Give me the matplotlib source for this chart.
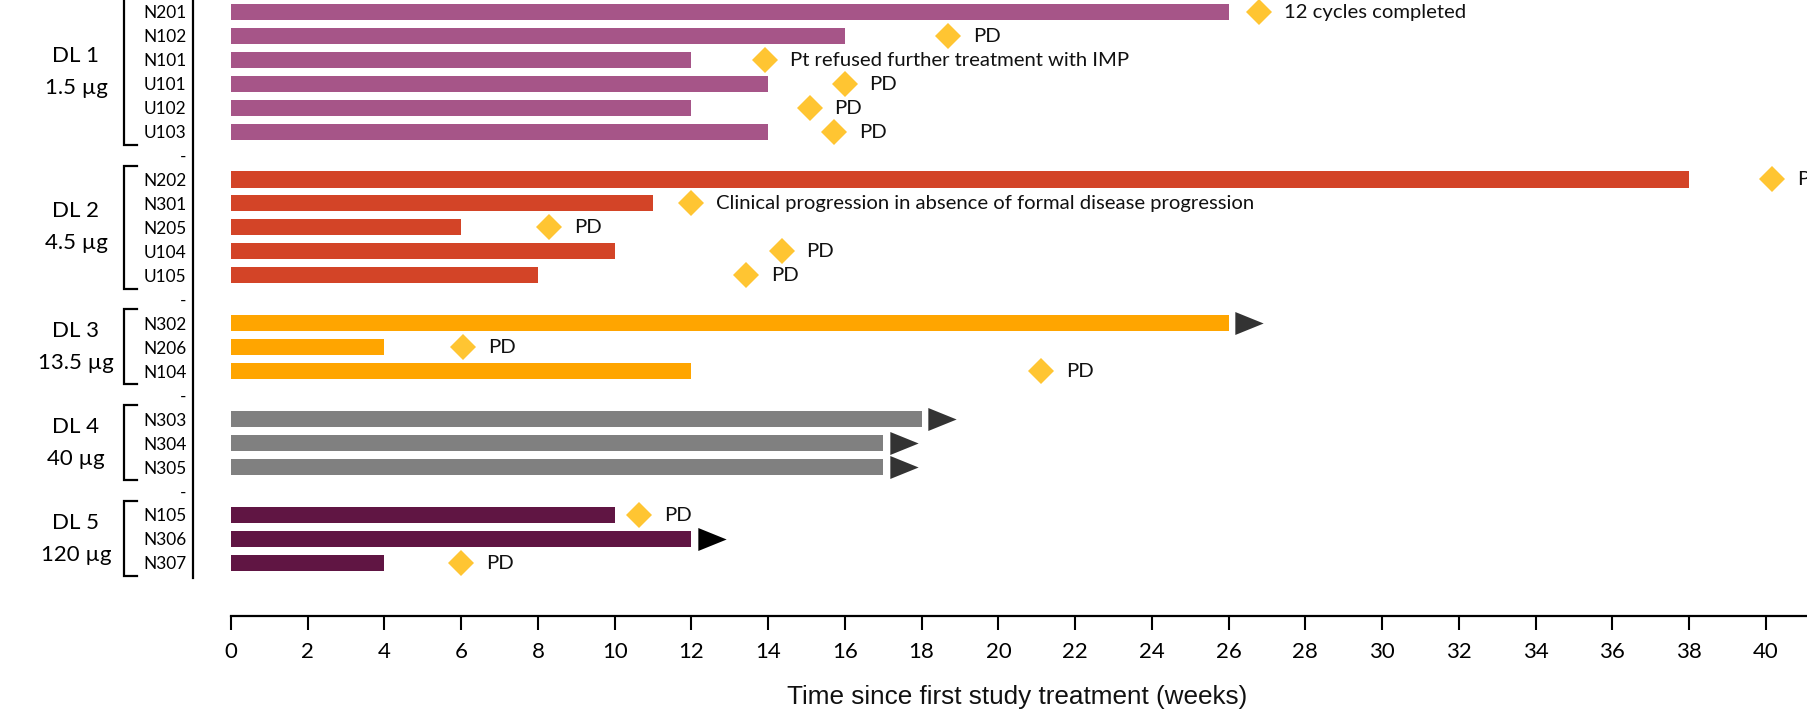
import matplotlib
matplotlib.use("Agg")
import matplotlib.pyplot as plt
from matplotlib.path import Path
from matplotlib.transforms import offset_copy, blended_transform_factory

# ---------------- data ----------------
group_labels = ["DL 1\n1.5 µg", "DL 2\n4.5 µg", "DL 3\n13.5 µg", "DL 4\n40 µg", "DL 5\n120 µg"]
group_sizes = [6, 5, 3, 3, 3]
group_colors = ["#A65588", "#D34427", "#FFA500", "#808080", "#601543"]

patients = ["N201", "N102", "N101", "U101", "U102", "U103",
            "N202", "N301", "N205", "U104", "U105",
            "N302", "N206", "N104",
            "N303", "N304", "N305",
            "N105", "N306", "N307"]
durations = [26, 16, 12, 14, 12, 14,
             38, 11, 6, 10, 8,
             26, 4, 12,
             18, 17, 17,
             10, 12, 4]
event_weeks = [26.8, 18.7, 13.93, 15.99, 15.08, 15.72,
               40.16, 12.0, 8.28, 14.35, 13.42,
               None, 6.06, 21.11,
               None, None, None,
               10.63, None, 6.0]
event_labels = ["12 cycles completed", "PD", "Pt refused further treatment with IMP", "PD", "PD", "PD",
                "PD", "Clinical progression in absence of formal disease progression", "PD", "PD", "PD",
                None, "PD", "PD",
                None, None, None,
                "PD", None, "PD"]
ongoing = [False, False, False, False, False, False,
           False, False, False, False, False,
           True, False, False,
           True, True, True,
           False, True, False]
arrow_colors = ["#333333"] * 17 + ["#333333", "#000000", "#333333"]

x_ticks = list(range(0, 41, 2))
x_label = "Time since first study treatment (weeks)"

# ---------------- layout ----------------
W, H = 1808, 722
fig = plt.figure(figsize=(W / 100, H / 100), dpi=100)
ax = fig.add_axes([192.6 / W, 1 - 578 / H, (W - 192.6) / W, 578 / H])

LATO = ["Lato", "DejaVu Sans"]

# rows: patients with a separator row between groups
y_pos, bar_colors, tick_rows, tick_labels, group_rows = [], [], [], [], []
r = 0
idx = 0
for gi, size in enumerate(group_sizes):
    if gi > 0:
        tick_rows.append(r)
        tick_labels.append("-")
        r += 1
    rows_g = []
    for k in range(size):
        y_pos.append(r)
        rows_g.append(r)
        tick_rows.append(r)
        tick_labels.append(patients[idx])
        bar_colors.append(group_colors[gi])
        idx += 1
        r += 1
    group_rows.append(rows_g)

ax.barh(y_pos, durations, left=0, height=0.67, color=bar_colors, linewidth=0, zorder=2)

# events (diamonds + text)
for x, y, lab in zip(event_weeks, y_pos, event_labels):
    if x is None:
        continue
    ax.plot([x], [y], marker="D", ms=13.6, color="#FFC532", mew=0, ls="none",
            clip_on=False, zorder=3)
    ax.annotate(lab, (x, y), xytext=(25, -6), textcoords="offset pixels",
                ha="left", va="baseline", fontsize=14.6, family=LATO,
                color="#111111", annotation_clip=False)

# ongoing arrows
tri = Path([(-1, -0.81), (1, 0), (-1, 0.81), (-1, -0.81)],
           [Path.MOVETO, Path.LINETO, Path.LINETO, Path.CLOSEPOLY])
arrow_trans = offset_copy(ax.transData, fig=fig, x=20.8, y=0, units="dots")
for d, y, on, c in zip(durations, y_pos, ongoing, arrow_colors):
    if on:
        ax.plot([d], [y], marker=tri, ms=20.4, color=c, mew=0, ls="none",
                transform=arrow_trans, clip_on=False, zorder=3)

# axes
ax.set_xlim(-1, 41.1)
ax.set_ylim(23.63, -0.49)
for s in ["top", "right"]:
    ax.spines[s].set_visible(False)
ax.spines["left"].set_linewidth(1.6)
ax.spines["bottom"].set_linewidth(1.6)
ax.spines["bottom"].set_position(("outward", 27.4))
ax.spines["bottom"].set_bounds(0, 41.1)

ax.set_xticks(x_ticks)
ax.set_xticklabels([str(t) for t in x_ticks], family=LATO, fontsize=16)
ax.tick_params(axis="x", length=10, width=1.5, pad=9, color="black")
ax.set_yticks(tick_rows)
ax.set_yticklabels(tick_labels, family=LATO, fontsize=12.4)
ax.tick_params(axis="y", length=0, pad=4.5)

# group brackets and labels
btr = blended_transform_factory(fig.transFigure, ax.transData)
bx0, bx1 = 124 / W, 137 / W
for gl, rows_g in zip(group_labels, group_rows):
    top = rows_g[0] - 0.58
    bot = rows_g[-1] + 0.55
    ax.plot([bx1, bx0, bx0, bx1], [top, top, bot, bot], color="black", lw=1.6,
            transform=btr, clip_on=False, solid_joinstyle="miter")
    yc = (rows_g[0] + rows_g[-1]) / 2
    ax.text(76 / W, yc, gl, transform=btr, ha="center", va="center",
            multialignment="center", fontsize=16, family=LATO, linespacing=1.75)

fig.text(1017.4 / W, 1 - 704.3 / H, x_label, ha="center", va="baseline",
         family=["Liberation Sans", "DejaVu Sans"], fontsize=18.8, color="#111111")

fig.savefig("out.png", dpi=100)
